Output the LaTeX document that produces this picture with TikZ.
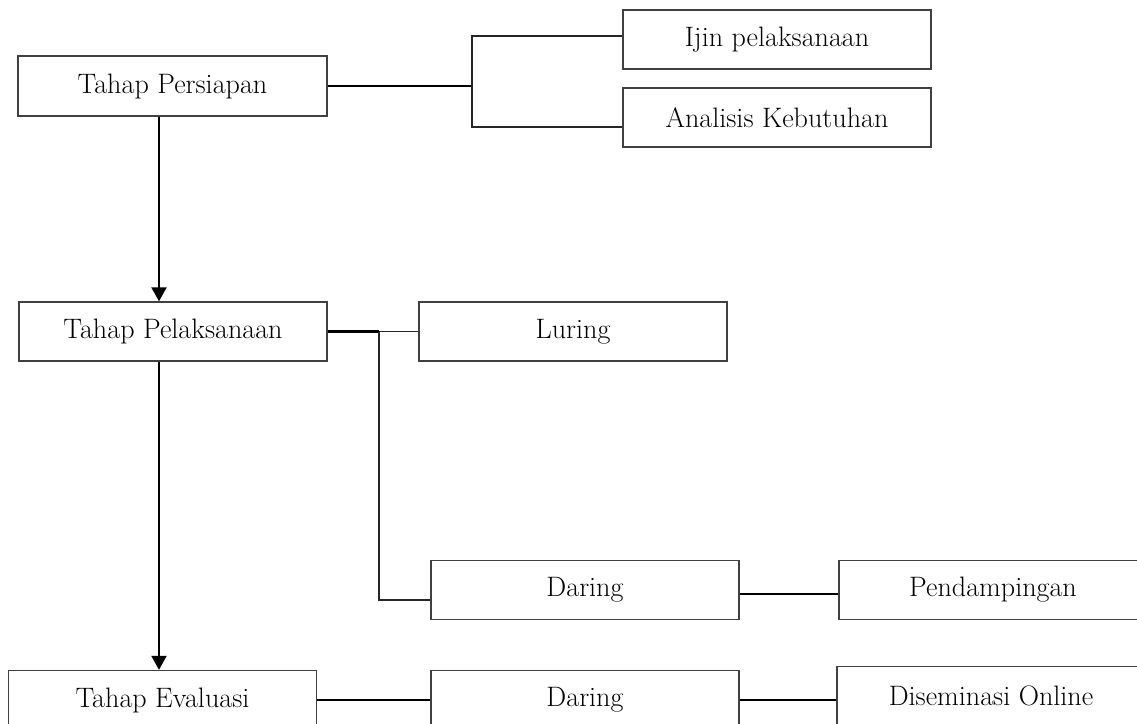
\documentclass[tikz,border=0pt]{standalone}
\usetikzlibrary{arrows.meta}

\tikzset{
  tahap/.style={draw=black!75,line width=0.8pt,minimum width=6.16cm,minimum height=1.18cm,
    inner sep=0pt,font=\fontsize{16}{19}\selectfont},
  tebal/.style={line width=1.2pt},
  tipis/.style={line width=0.6pt,draw=black!85},
  panah/.style={line width=1.2pt,-{Triangle[width=0.3cm,length=0.28cm]}}
}

\begin{document}
\begin{tikzpicture}[x=0.02cm,y=-0.02cm]
\useasboundingbox (0,0) rectangle (1137,724);
\clip (0,0) rectangle (1137,724);

\node[tahap,minimum width=6.18cm,minimum height=1.2cm] (persiapan) at (172.5,86) {Tahap Persiapan};
\node[tahap] (ijin) at (777,39.5) {Ijin pelaksanaan};
\node[tahap] (analisis) at (777,117.5) {Analisis Kebutuhan};

\node[tahap] (pelaksanaan) at (173,331.5) {Tahap Pelaksanaan};
\node[tahap] (luring) at (573,331.5) {Luring};
\node[tahap] (daring) at (585,590) {Daring};
\node[tahap] (pendampingan) at (993,590) {Pendampingan};

\node[tahap] (evaluasi) at (162.5,700) {Tahap Evaluasi};
\node[tahap] (daringdua) at (585,700) {Daring};
\node[tahap] (diseminasi) at (991,696) {Diseminasi Online};

\coordinate (ja) at (472,88);
\coordinate (jb) at (379,331.5);
\coordinate (ax) at (159,0);

\draw[tebal] (persiapan.east) -- (persiapan.east -| ja);
\draw[tipis] ([yshift=0.07cm]ijin.west) -| (ja) |- ([yshift=-0.19cm]analisis.west);

\draw[tebal] (pelaksanaan.east) -- (jb);
\draw[tipis] (jb) -- (luring.west);
\draw[tipis] (jb) |- ([yshift=-0.2cm]daring.west);
\draw[tebal] ([yshift=-0.08cm]daring.east) -- ([yshift=-0.08cm]pendampingan.west);

\draw[tebal] (evaluasi.east) -- (daringdua.west);
\draw[tebal] (daringdua.east) -- (daringdua.east -| diseminasi.west);

\draw[panah] (persiapan.south -| ax) -- (pelaksanaan.north -| ax);
\draw[panah] (pelaksanaan.south -| ax) -- (evaluasi.north -| ax);

\end{tikzpicture}
\end{document}
